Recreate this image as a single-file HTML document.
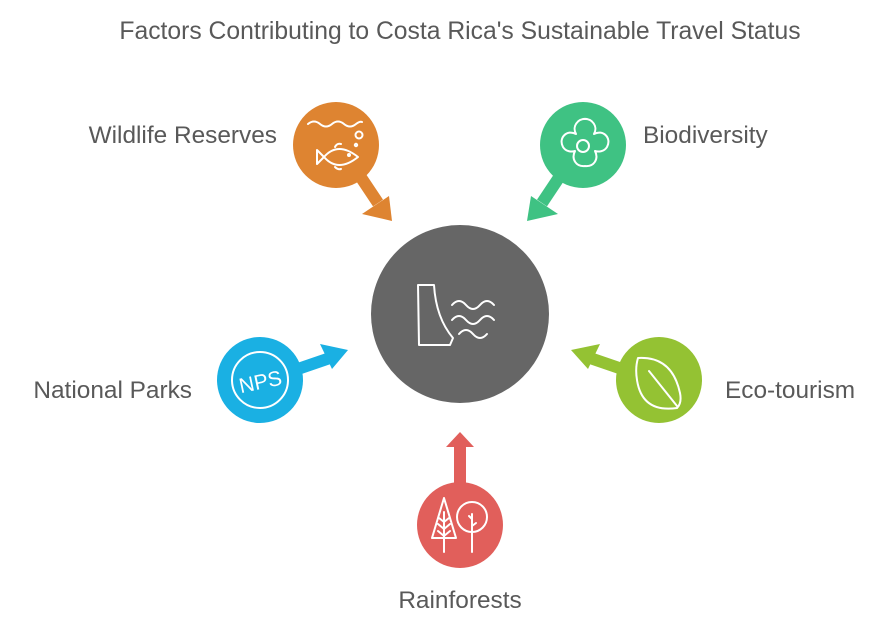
<!DOCTYPE html>
<html><head><meta charset="utf-8"><style>
body{margin:0;background:#fff;}
svg text{font-family:"Liberation Sans",sans-serif;fill:#595959;}
</style></head><body>
<svg width="888" height="630" viewBox="0 0 888 630" xmlns="http://www.w3.org/2000/svg">
<text x="460" y="39" font-size="24.7" text-anchor="middle" fill="#666">Factors Contributing to Costa Rica's Sustainable Travel Status</text>

<!-- arrows -->
<g fill="#DE8431"><path d="M356,170 L378,203" stroke="#DE8431" stroke-width="12"/><polygon points="392,221 362,214 389,196"/></g>
<g fill="#3FC283"><path d="M564,170 L542,203" stroke="#3FC283" stroke-width="12"/><polygon points="527,221 531,196 558,214"/></g>
<g fill="#1AB0E3"><path d="M295,370 L330,358" stroke="#1AB0E3" stroke-width="12"/><polygon points="348,350 320,344 332,369"/></g>
<g fill="#94C233"><path d="M625,370 L590,358" stroke="#94C233" stroke-width="12"/><polygon points="571,350 600,344 588,369"/></g>
<g fill="#E15F5B"><path d="M460,485 L460,446" stroke="#E15F5B" stroke-width="12"/><polygon points="460,432 446,447 474,447"/></g>

<!-- circles -->
<circle cx="460" cy="314" r="89" fill="#666"/>
<circle cx="336" cy="145" r="43" fill="#DE8431"/>
<circle cx="583" cy="145" r="43" fill="#3FC283"/>
<circle cx="260" cy="380" r="43" fill="#1AB0E3"/>
<circle cx="659" cy="380" r="43" fill="#94C233"/>
<circle cx="460" cy="525" r="43" fill="#E15F5B"/>

<!-- icons -->
<g fill="none" stroke="#fff" stroke-width="2" stroke-linecap="round" stroke-linejoin="round">
<path d="M418,285 L434,285 Q436,318 453,338 L450,345 L419,345 Z"/>
<path d="M452,305 q7,-8 14,0 q7,8 14,0 q7,-8 14,0 M452,320 q7,-8 14,0 q7,8 14,0 q7,-8 14,0 M459,334 q7,-8 14,0 q7,8 14,0"/>
<!-- fish -->
<path d="M308,124 q6,-5 12,0 q6,5 12,0 q6,-5 12,0 q6,5 12,0 q4,-3 6,-2"/>
<circle cx="359" cy="135" r="3.5"/>
<circle cx="356" cy="145" r="1.2"/>
<path d="M317,150 l7,7 l-7,7 z M324,157 q14,-16 34,0 q-20,16 -34,0 M335,147 q2,-4 6,-3 M335,167 q3,3 6,2"/>
<circle cx="349" cy="155" r="1" fill="#fff"/>
<!-- flower -->
<circle cx="583" cy="146" r="6"/>
<path d="M583,119 c10,-1 15,8 11,15 c9,-5 18,4 13,13 c-3,5 -9,5 -12,4 c4,8 -1,16 -10,15 c-9,1 -14,-7 -10,-15 c-3,1 -9,1 -12,-4 c-5,-9 4,-18 13,-13 c-4,-7 1,-16 11,-15 z"/>
<!-- NPS -->
<circle cx="260" cy="380" r="28"/>
<text x="260" y="389" font-size="21" text-anchor="middle" stroke="none" style="fill:#fff" transform="rotate(-12 260 380)">NPS</text>
<!-- leaf -->
<path d="M638,358 q34,-2 42,35 q2,10 -3,15 q-35,5 -40,-28 q-2,-12 1,-22 z M649,371 L677,406"/>
<!-- trees -->
<path d="M444,498 L432,538 L456,538 Z M444,512 L444,552 M444,522 l5,-4 M444,522 l-5,-4 M444,529 l6,-5 M444,529 l-6,-5 M444,536 l6,-5 M444,536 l-6,-5"/>
<circle cx="472" cy="517" r="15"/>
<path d="M472,514 L472,552 M472,526 l4,-3 M472,519 l-3,-3"/>
</g>

<!-- labels -->
<text x="277" y="143" font-size="24.4" text-anchor="end">Wildlife Reserves</text>
<text x="643" y="143" font-size="24.4">Biodiversity</text>
<text x="192" y="398" font-size="24.4" text-anchor="end">National Parks</text>
<text x="725" y="398" font-size="24.4">Eco-tourism</text>
<text x="460" y="608" font-size="24.4" text-anchor="middle">Rainforests</text>
</svg>
</body></html>
